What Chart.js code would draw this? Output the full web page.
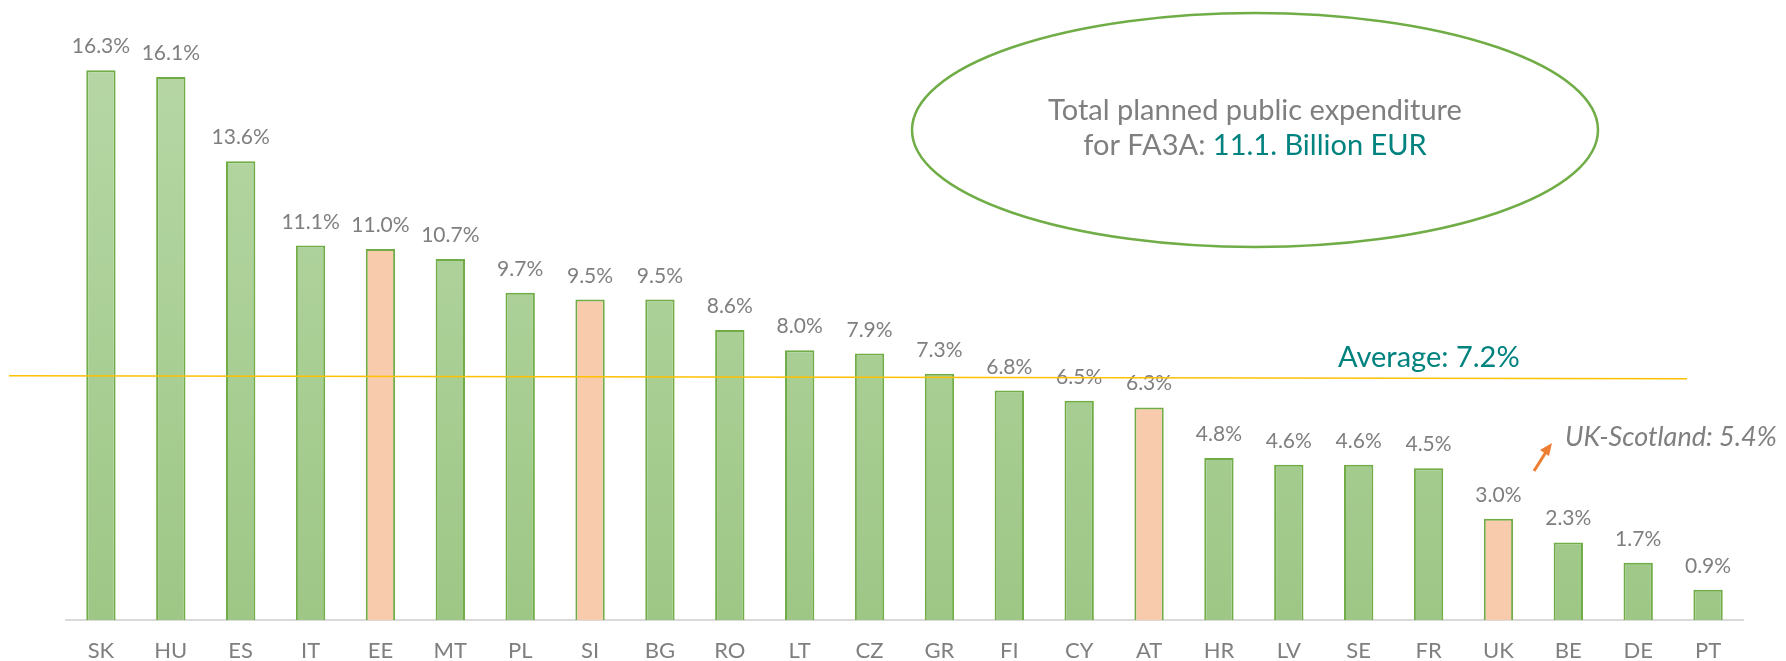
<!DOCTYPE html>
<html>
<head>
<meta charset="utf-8">
<script src="https://cdn.jsdelivr.net/npm/chart.js@4.4.1/dist/chart.umd.min.js"></script>
<style>
    html, body { margin: 0; padding: 0; background: #fff; }
    #wrap { width: 1786px; height: 661px; position: relative; }
</style>
</head>
<body>
<div id="wrap"><canvas id="fa3a-chart" width="1786" height="661"></canvas></div>
<script>
// Share of planned public expenditure for FA3A, by Member State (%)
const countries = ['SK', 'HU', 'ES', 'IT', 'EE', 'MT', 'PL', 'SI', 'BG', 'RO', 'LT', 'CZ',
                   'GR', 'FI', 'CY', 'AT', 'HR', 'LV', 'SE', 'FR', 'UK', 'BE', 'DE', 'PT'];
const shares = [16.3, 16.1, 13.6, 11.1, 11.0, 10.7, 9.7, 9.5, 9.5, 8.6, 8.0, 7.9,
                7.3, 6.8, 6.5, 6.3, 4.8, 4.6, 4.6, 4.5, 3.0, 2.3, 1.7, 0.9];
const highlighted = ['EE', 'SI', 'AT', 'UK'];
const averageShare = 7.2;
const scotlandShare = 5.4;
const totalBillion = '11.1.';

const GREY = '#7f7f7f';
const TEAL = '#00827f';
const FONT = 'Lato, "Open Sans", sans-serif';

function barFill(context) {
    const chart = context.chart;
    const area = chart.chartArea;
    if (highlighted.includes(countries[context.dataIndex])) return '#f8cbad';
    if (!area) return '#a9d18e';
    const g = chart.ctx.createLinearGradient(0, area.top + 60, 0, area.bottom);
    g.addColorStop(0, '#b6d7a5');
    g.addColorStop(1, '#9ec786');
    return g;
}

// value labels above bars, average line and the text annotations
const annotations = {
    id: 'annotations',
    afterDatasetsDraw(chart) {
        const ctx = chart.ctx;
        const y = chart.scales.y;
        const bars = chart.getDatasetMeta(0).data;

        ctx.save();
        ctx.font = '21px ' + FONT;
        ctx.fillStyle = GREY;
        ctx.textAlign = 'center';
        ctx.textBaseline = 'alphabetic';
        bars.forEach((bar, i) => {
            ctx.fillText(shares[i].toFixed(1) + '%', bar.x, bar.y - 17);
        });

        // average line (slightly tilted, as in the source slide)
        const ay = y.getPixelForValue(averageShare);
        ctx.strokeStyle = '#ffc000';
        ctx.lineWidth = 1.5;
        ctx.beginPath();
        ctx.moveTo(9, ay - 1.5);
        ctx.lineTo(1687, ay + 1.5);
        ctx.stroke();

        ctx.font = '29px ' + FONT;
        ctx.fillStyle = TEAL;
        ctx.textAlign = 'left';
        ctx.fillText('Average: ' + averageShare.toFixed(1) + '%', 1338, ay - 10);

        // UK-Scotland note
        ctx.font = 'italic 27px ' + FONT;
        ctx.fillStyle = GREY;
        ctx.fillText('UK-Scotland: ' + scotlandShare.toFixed(1) + '%', 1565, 446);

        ctx.strokeStyle = '#ed7d31';
        ctx.fillStyle = '#ed7d31';
        ctx.lineWidth = 3;
        ctx.beginPath();
        ctx.moveTo(1534, 471);
        ctx.lineTo(1546, 452);
        ctx.stroke();
        ctx.beginPath();
        ctx.moveTo(1552, 443);
        ctx.lineTo(1540, 450);
        ctx.lineTo(1549, 456);
        ctx.closePath();
        ctx.fill();

        // ellipse with total
        ctx.strokeStyle = '#70ad47';
        ctx.lineWidth = 2.5;
        ctx.beginPath();
        ctx.ellipse(1255, 130, 343, 117, 0, 0, Math.PI * 2);
        ctx.stroke();

        ctx.font = '29px ' + FONT;
        ctx.textAlign = 'center';
        ctx.fillStyle = GREY;
        ctx.fillText('Total planned public expenditure', 1255, 120);
        const part1 = 'for FA3A: ';
        const part2 = totalBillion + ' Billion EUR';
        const w1 = ctx.measureText(part1).width;
        const w2 = ctx.measureText(part2).width;
        const x0 = 1255 - (w1 + w2) / 2;
        ctx.textAlign = 'left';
        ctx.fillText(part1, x0, 155);
        ctx.fillStyle = TEAL;
        ctx.fillText(part2, x0 + w1, 155);
        ctx.restore();
    }
};

new Chart(document.getElementById('fa3a-chart'), {
    type: 'bar',
    data: {
        labels: countries,
        datasets: [{
            data: shares,
            backgroundColor: barFill,
            borderColor: '#70ad47',
            borderWidth: 2,
            borderSkipped: 'bottom',
            barPercentage: 0.42,
            categoryPercentage: 1.0
        }]
    },
    options: {
        responsive: false,
        animation: false,
        layout: {
            padding: { left: 66, right: 43, top: 0, bottom: 0 }
        },
        plugins: {
            legend: { display: false },
            tooltip: { enabled: false }
        },
        scales: {
            y: {
                display: false,
                min: 0,
                max: 18.38
            },
            x: {
                afterFit(scale) { scale.height = 41; },
                grid: { display: false, drawTicks: false },
                border: { display: true, color: '#d9d9d9', width: 2 },
                ticks: {
                    color: GREY,
                    font: { family: FONT, size: 22 },
                    padding: 18
                }
            }
        }
    },
    plugins: [annotations]
});
</script>
</body>
</html>
